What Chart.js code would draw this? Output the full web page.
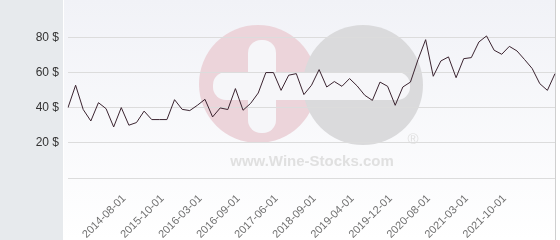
<!DOCTYPE html>
<html>
<head>
<meta charset="utf-8">
<script src="https://cdn.jsdelivr.net/npm/chart.js@4"></script>
<style>
  html, body { margin: 0; padding: 0; background: #fff; }
  #wrap { width: 560px; height: 240px; position: relative; }
</style>
</head>
<body>
<div id="wrap"><canvas id="priceChart"></canvas></div>
<script>
const prices = [
    40, 52.7, 38.9, 32.4, 42.8, 39.4, 29, 40, 30, 31.5,
    38, 33.2, 33.2, 33.2, 44.5, 39, 38.3, 41.3, 44.7, 34.7,
    39.8, 38.9, 50.8, 38.5, 42.4, 48.3, 59.9, 59.9, 49.8, 58.4,
    59.3, 47.4, 52.7, 61.6, 51.7, 54.8, 52.1, 56.5, 52.3, 47,
    44.1, 54.5, 52.1, 41.3, 51.7, 54.5, 67.3, 78.6, 57.8, 66.5,
    68.8, 57, 67.8, 68.4, 77.3, 80.7, 72.6, 70.3, 74.8, 72.2,
    67.3, 62.2, 53.6, 49.8, 59.3
];
const tickLabels = [
    '2014-08-01', '2015-10-01', '2016-03-01', '2016-09-01', '2017-06-01', '2018-09-01',
    '2019-04-01', '2019-12-01', '2020-08-01', '2021-03-01', '2021-10-01'
];
const tickSlots = [7, 12, 17, 22, 27, 32, 37, 42, 47, 52, 57];
const categories = prices.map((_, i) => {
    const k = tickSlots.indexOf(i);
    return k >= 0 ? tickLabels[k] : '';
});

const FONT = '"Liberation Sans", Arial, sans-serif';

// panel backgrounds and the watermark logo
const backdrop = {
    id: 'backdrop',
    beforeDraw(chart) {
        const ctx = chart.ctx;
        const w = chart.width, h = chart.height;
        ctx.save();
        ctx.fillStyle = '#e7eaed';
        ctx.fillRect(0, 0, 63, h);
        const g = ctx.createLinearGradient(0, 0, 0, h);
        g.addColorStop(0, '#f1f2f7');
        g.addColorStop(1, '#ffffff');
        ctx.fillStyle = g;
        ctx.fillRect(64, 0, 491, h);
        ctx.fillStyle = '#ffffff';
        ctx.fillRect(556, 0, w - 556, h);
        ctx.strokeStyle = '#cfcfcf';
        ctx.lineWidth = 1;
        ctx.beginPath();
        ctx.moveTo(555.5, 0);
        ctx.lineTo(555.5, h);
        ctx.stroke();

        // logo
        ctx.fillStyle = '#ecd4da';
        ctx.beginPath();
        ctx.arc(258, 84, 59, 0, Math.PI * 2);
        ctx.fill();
        ctx.fillStyle = '#dadadc';
        ctx.beginPath();
        ctx.arc(363, 85, 60, 0, Math.PI * 2);
        ctx.fill();
        ctx.fillStyle = '#f6f6f9';
        ctx.beginPath();
        ctx.roundRect(213, 72, 197, 28, 13);
        ctx.fill();
        ctx.beginPath();
        ctx.roundRect(248, 40, 28, 93, 13);
        ctx.fill();

        ctx.fillStyle = '#e0e0e0';
        ctx.font = 'bold 15px ' + FONT;
        ctx.textAlign = 'center';
        ctx.textBaseline = 'alphabetic';
        ctx.fillText('www.Wine-Stocks.com', 312, 166);
        ctx.font = '15px ' + FONT;
        ctx.fillText('®', 413, 144);
        ctx.restore();
    }
};

new Chart(document.getElementById('priceChart').getContext('2d'), {
    type: 'line',
    data: {
        labels: categories,
        datasets: [{
            data: prices,
            borderColor: '#3b2430',
            borderWidth: 1,
            pointRadius: 0,
            tension: 0,
            fill: false
        }]
    },
    options: {
        responsive: true,
        maintainAspectRatio: false,
        animation: false,
        layout: { padding: { top: 2, right: 5, left: 0, bottom: 0 } },
        plugins: {
            legend: { display: false },
            tooltip: { enabled: false }
        },
        scales: {
            x: {
                grid: { display: false },
                border: { display: false },
                afterFit(scale) {
                    scale.height = 62;
                    scale.paddingLeft = 0;
                    scale.paddingRight = 0;
                },
                ticks: {
                    autoSkip: false,
                    maxRotation: 45,
                    minRotation: 45,
                    padding: 6,
                    labelOffset: 3,
                    color: '#707070',
                    font: { family: FONT, size: 11 },
                    callback: (value, index) => categories[index]
                }
            },
            y: {
                min: 0,
                max: 100,
                border: { display: false },
                afterFit(scale) {
                    scale.width = 68;
                    scale.paddingTop = 0;
                    scale.paddingBottom = 0;
                },
                grid: {
                    drawTicks: false,
                    color: (c) => c.tick && c.tick.value === 100 ? 'rgba(0,0,0,0)' : '#dcdcdc'
                },
                ticks: {
                    stepSize: 20,
                    padding: 9,
                    color: '#333',
                    font: { family: FONT, size: 12 },
                    callback: (v) => (v === 0 || v === 100) ? '' : v + ' $'
                }
            }
        }
    },
    plugins: [backdrop]
});
</script>
</body>
</html>
